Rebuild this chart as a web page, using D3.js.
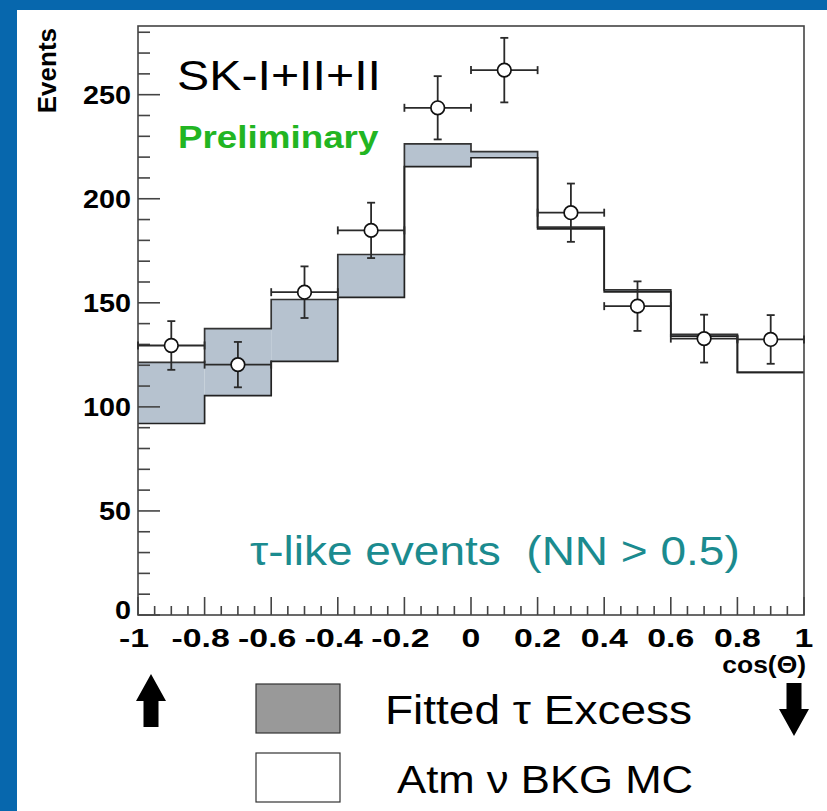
<!DOCTYPE html>
<html>
<head>
<meta charset="utf-8">
<script src="https://cdn.jsdelivr.net/npm/d3@7"></script>
<style>
  html, body { margin: 0; padding: 0; background: #0767ad; }
  text { font-family: "Liberation Sans", Arial, sans-serif; white-space: pre; }
</style>
</head>
<body>
<script>
var W = 827, H = 811;

// data, bins of width 0.2 in cos(theta)
var binLow = [-1, -0.8, -0.6, -0.4, -0.2, 0, 0.2, 0.4, 0.6, 0.8];
var binHigh = [-0.8, -0.6, -0.4, -0.2, 0, 0.2, 0.4, 0.6, 0.8, 1];
var atmBkg = [92, 105.4, 121.9, 152.6, 215.4, 219.7, 185.5, 155.3, 134, 116.6];
var tauExcess = [29.4, 32.2, 29.7, 20.6, 11.0, 2.9, 0.9, 0.9, 0.8, 0];
var dataVal = [129.5, 120.3, 155.1, 184.8, 243.7, 261.8, 193.3, 148.4, 132.8, 132.4];
var dataErr = [11.7, 10.9, 12.4, 13.3, 15.2, 15.5, 14, 11.9, 11.5, 11.7];

var yMajor = [0, 50, 100, 150, 200, 250];
var xMajor = [-1, -0.8, -0.6, -0.4, -0.2, 0, 0.2, 0.4, 0.6, 0.8, 1];
var xLabels = ["-1", "-0.8", "-0.6", "-0.4", "-0.2", "0", "0.2", "0.4", "0.6", "0.8", "1"];

var SX = 1.15; // text looks stretched sideways in the original

var svg = d3.select("body").append("svg")
    .attr("width", W).attr("height", H)
    .style("display", "block");

// blue slide background + white panel
svg.append("rect").attr("width", W).attr("height", H).attr("fill", "#0767ad");
svg.append("rect").attr("x", 17).attr("y", 10).attr("width", W - 17).attr("height", H - 10)
    .attr("fill", "#fff");

var x = d3.scaleLinear().domain([-1, 1]).range([138, 804]);
var y = d3.scaleLinear().domain([0, 283]).range([615, 26]);

var txt = function(px, py, s, size, opt) {
    opt = opt || {};
    return svg.append("text")
        .attr("transform", "translate(" + px + "," + py + ") scale(" + (opt.sx || SX) + ",1)")
        .attr("font-size", size)
        .attr("font-weight", opt.bold ? "bold" : "normal")
        .attr("text-anchor", opt.anchor || "start")
        .attr("fill", opt.color || "#000")
        .text(s);
}

// excess band between bkg and total
var total = atmBkg.map(function(v, i) { return v + tauExcess[i]; });

svg.selectAll(".band")
    .data(binLow)
    .enter().append("rect")
    .attr("x", function(d) { return x(d); })
    .attr("width", function(d, i) { return x(binHigh[i]) - x(d); })
    .attr("y", function(d, i) { return y(total[i]); })
    .attr("height", function(d, i) { return y(atmBkg[i]) - y(total[i]); })
    .attr("fill", "#b6c2cf");

var stepPts = function(vals) {
    var pts = binLow.map(function(d, i) { return [d, vals[i]]; });
    pts.push([1, vals[vals.length - 1]]);
    return pts;
}

var step = d3.line()
    .x(function(d) { return x(d[0]); })
    .y(function(d) { return y(d[1]); })
    .curve(d3.curveStepAfter);

svg.append("path").attr("d", step(stepPts(total)))
    .attr("fill", "none").attr("stroke", "#333").attr("stroke-width", 1.7);
svg.append("path").attr("d", step(stepPts(atmBkg)))
    .attr("fill", "none").attr("stroke", "#222").attr("stroke-width", 1.7);

// axes frame
var frame = svg.append("g");
frame.append("rect")
    .attr("x", x(-1)).attr("y", y(283))
    .attr("width", x(1) - x(-1)).attr("height", y(0) - y(283))
    .attr("fill", "none").attr("stroke", "#444").attr("stroke-width", 1.6);

// y ticks (inside)
var yTicks = d3.range(0, 281, 10);
frame.selectAll(".yt").data(yTicks).enter().append("line")
    .attr("x1", x(-1))
    .attr("x2", function(d) { return x(-1) + (d % 50 === 0 ? 22 : 12); })
    .attr("y1", function(d) { return y(d); })
    .attr("y2", function(d) { return y(d); })
    .attr("stroke", "#444").attr("stroke-width", 1.6);

var xTicks = d3.range(0, 41).map(function(i) { return -1 + i * 0.05; });
frame.selectAll(".xt").data(xTicks).enter().append("line")
    .attr("x1", function(d) { return x(d); })
    .attr("x2", function(d) { return x(d); })
    .attr("y1", y(0))
    .attr("y2", function(d, i) { return y(0) - (i % 4 === 0 ? 18 : 9); })
    .attr("stroke", "#444").attr("stroke-width", 1.6);

yMajor.forEach(function(v) {
    txt(131, y(v) + (v === 0 ? 4 : 9), String(v), 25, {bold: true, anchor: "end"});
});
xMajor.forEach(function(v, i) {
    txt(x(v) - (v < 0 ? 4 : 0), 647, xLabels[i], 26, {bold: true, anchor: "middle", sx: 1.3});
});

svg.append("text")
    .attr("transform", "translate(56,28) rotate(-90)")
    .attr("font-size", 26).attr("font-weight", "bold")
    .attr("text-anchor", "end")
    .text("Events");

txt(806, 673, "cos(\u0398)", 23, {bold: true, anchor: "end"});

// data points with error bars
var pts = svg.append("g");
binLow.forEach(function(lo, i) {
    var cx = x((lo + binHigh[i]) / 2);
    var cy = y(dataVal[i]);
    var top = y(dataVal[i] + dataErr[i]);
    var bot = y(dataVal[i] - dataErr[i]);
    var xl = x(lo), xr = x(binHigh[i]);
    var g = pts.append("g").attr("stroke", "#2a2a2a").attr("stroke-width", 1.8);
    g.append("line").attr("x1", cx).attr("x2", cx).attr("y1", top).attr("y2", bot);
    g.append("line").attr("x1", xl).attr("x2", xr).attr("y1", cy).attr("y2", cy);
    g.append("line").attr("x1", cx - 4).attr("x2", cx + 4).attr("y1", top).attr("y2", top);
    g.append("line").attr("x1", cx - 4).attr("x2", cx + 4).attr("y1", bot).attr("y2", bot);
    g.append("line").attr("x1", xl).attr("x2", xl).attr("y1", cy - 4).attr("y2", cy + 4);
    g.append("line").attr("x1", xr).attr("x2", xr).attr("y1", cy - 4).attr("y2", cy + 4);
    pts.append("circle").attr("cx", cx).attr("cy", cy).attr("r", 6.8)
        .attr("fill", "#fff").attr("stroke", "#111").attr("stroke-width", 1.7);
});

// annotations
txt(177, 90, "SK-I+II+II", 42, {});
txt(178, 148, "Preliminary", 32, {bold: true, color: "#22b522"});
txt(250, 565, "\u03c4-like events  (NN > 0.5)", 40, {color: "#1b8b8f"});

// arrows under the axis ends
svg.append("path")
    .attr("d", "M151,674 L166,701 L158.5,701 L158.5,727 L143.5,727 L143.5,701 L136,701 Z")
    .attr("fill", "#000");
svg.append("path")
    .attr("d", "M794,736 L809,709 L801.5,709 L801.5,683 L786.5,683 L786.5,709 L779,709 Z")
    .attr("fill", "#000");

// legend
svg.append("rect").attr("x", 256).attr("y", 684).attr("width", 84).attr("height", 49)
    .attr("fill", "#999").attr("stroke", "#333").attr("stroke-width", 1.2);
svg.append("rect").attr("x", 256).attr("y", 753).attr("width", 84).attr("height", 49)
    .attr("fill", "#fff").attr("stroke", "#333").attr("stroke-width", 1.2);
txt(385, 724, "Fitted \u03c4 Excess", 40, {});
txt(397, 793, "Atm \u03bd BKG MC", 38, {});
</script>
</body>
</html>
